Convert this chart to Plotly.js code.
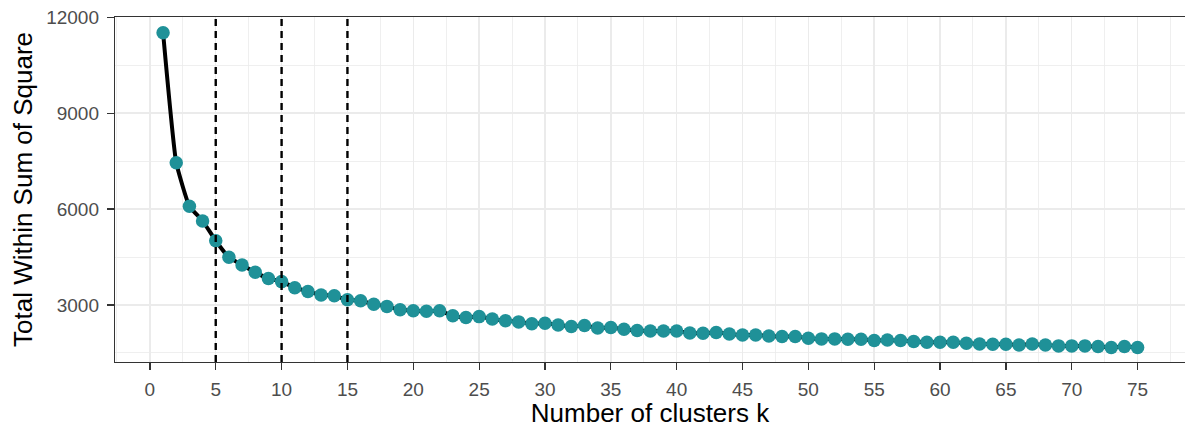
<!DOCTYPE html>
<html>
<head>
<meta charset="utf-8">
<script src="https://cdn.plot.ly/plotly-3.0.1.min.js"></script>
<style>html,body{margin:0;padding:0;background:#fff;}#chart{width:1185px;height:428px;}</style>
</head>
<body>
<div id="chart"></div>
<script>
const k = Array.from({length: 75}, (_, i) => i + 1);
const wss = [11520, 7450, 6090, 5630, 5010, 4490, 4250, 4020, 3830, 3730,
  3540, 3420, 3310, 3290, 3160, 3130, 3020, 2955, 2850, 2820,
  2800, 2820, 2660, 2610, 2635, 2560, 2505, 2470, 2415, 2427,
  2375, 2323, 2354, 2280, 2292, 2240, 2198, 2188, 2188, 2188,
  2120, 2115, 2135, 2094, 2060, 2060, 2031, 2010, 2010, 1958,
  1938, 1938, 1927, 1927, 1885, 1906, 1885, 1854, 1833, 1833,
  1833, 1802, 1781, 1771, 1771, 1750, 1781, 1750, 1719, 1719,
  1719, 1698, 1667, 1698, 1667];
const vlines = [5, 10, 15];
const xTitle = 'Number of clusters k';
const yTitle = 'Total Within Sum of Square';

const FONT = 'Liberation Sans, Arial, sans-serif';

const traces = [{
  x: k, y: wss, type: 'scatter', mode: 'lines+markers',
  line: {color: '#000000', width: 4, shape: 'spline', smoothing: 0.4},
  marker: {color: '#1F9198', size: 13.5},
  hoverinfo: 'x+y', showlegend: false
}];

const shapes = vlines.map(v => ({
  type: 'line', xref: 'x', yref: 'paper', x0: v, x1: v, y0: 0, y1: 1,
  line: {color: '#000000', width: 2.4, dash: '7px,5px'}, layer: 'above'
}));

const axisCommon = {
  showline: true, mirror: true, linecolor: '#333333', linewidth: 1.2,
  ticks: 'outside', ticklen: 7, tickcolor: '#333333', tickwidth: 1.2,
  showgrid: true, gridcolor: '#EBEBEB', gridwidth: 1.5,
  zeroline: false,
  tickfont: {family: FONT, size: 19, color: '#4D4D4D'}
};

const layout = {
  width: 1185, height: 428,
  margin: {l: 115, r: 0, t: 17, b: 66},
  paper_bgcolor: '#ffffff', plot_bgcolor: '#ffffff',
  font: {family: FONT},
  xaxis: Object.assign({}, axisCommon, {
    range: [-2.65, 78.6], tick0: 0, dtick: 5,
    minor: {dtick: 2.5, showgrid: true, gridcolor: '#EBEBEB', gridwidth: 0.8, ticks: ''},
    title: {text: xTitle, font: {family: FONT, size: 26, color: '#000000'}, standoff: 8},
    ticklabelstandoff: 3
  }),
  yaxis: Object.assign({}, axisCommon, {
    range: [1215, 12010], tick0: 0, dtick: 3000, tickformat: 'd',
    minor: {dtick: 1500, showgrid: true, gridcolor: '#EBEBEB', gridwidth: 0.8, ticks: ''},
    title: {text: yTitle, font: {family: FONT, size: 26, color: '#000000'}, standoff: 6},
    ticklabelstandoff: 4
  }),
  shapes: shapes
};

Plotly.newPlot('chart', traces, layout, {displayModeBar: false, staticPlot: true});
</script>
</body>
</html>
